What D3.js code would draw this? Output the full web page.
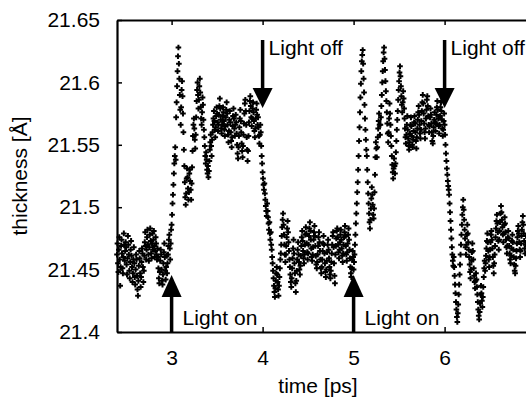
<!DOCTYPE html>
<html>
<head>
<meta charset="utf-8">
<script src="https://cdn.jsdelivr.net/npm/d3@7"></script>
<style>
  body { margin: 0; background: #fff; }
  text { font-family: "Liberation Sans", Arial, sans-serif; fill: #000; }
  .axis path, .axis line { stroke: #000; }
</style>
</head>
<body>
<div id="chart"></div>
<script>
// thickness trajectory, one value every 0.005 ps, split by light phase
var sampleStep = 0.005;

var darkA_start = 2.4;
var darkA = [
  21.462, 21.471, 21.455, 21.448, 21.466, 21.476, 21.458, 21.437, 21.452, 21.469,
  21.474, 21.463, 21.451, 21.447, 21.460, 21.479, 21.470, 21.457, 21.465, 21.472,
  21.468, 21.454, 21.446, 21.459, 21.477, 21.470, 21.462, 21.449, 21.443, 21.456,
  21.466, 21.473, 21.461, 21.452, 21.440, 21.447, 21.458, 21.468, 21.455, 21.444,
  21.438, 21.450, 21.462, 21.458, 21.445, 21.434, 21.429, 21.441, 21.453, 21.465,
  21.459, 21.447, 21.436, 21.444, 21.456, 21.467, 21.463, 21.452, 21.440, 21.449,
  21.461, 21.472, 21.480, 21.469, 21.458, 21.466, 21.476, 21.482, 21.470, 21.462,
  21.457, 21.468, 21.478, 21.483, 21.473, 21.463, 21.459, 21.471, 21.479, 21.466,
  21.474, 21.481, 21.469, 21.460, 21.465, 21.476, 21.471, 21.462, 21.458, 21.467,
  21.460, 21.451, 21.443, 21.439, 21.448, 21.457, 21.466, 21.462, 21.450, 21.441,
  21.438, 21.446, 21.455, 21.464, 21.471, 21.460, 21.449, 21.442, 21.452, 21.461,
  21.447, 21.455, 21.462, 21.469, 21.474, 21.478, 21.467, 21.458, 21.471, 21.482
];

var lightA_start = 3.0;
var lightA = [
  21.486, 21.494, 21.503, 21.510, 21.518, 21.527, 21.535, 21.541, 21.548, 21.538,
  21.572, 21.584, 21.597, 21.609, 21.621, 21.628, 21.615, 21.603, 21.590, 21.578,
  21.566, 21.580, 21.594, 21.601, 21.589, 21.575, 21.560, 21.546, 21.533, 21.520,
  21.508, 21.502, 21.511, 21.523, 21.531, 21.524, 21.515, 21.506, 21.512, 21.527,
  21.530, 21.521, 21.514, 21.506, 21.519, 21.532, 21.545, 21.557, 21.566, 21.571,
  21.563, 21.554, 21.547, 21.558, 21.572, 21.585, 21.594, 21.600, 21.590, 21.579,
  21.586, 21.597, 21.603, 21.592, 21.580, 21.571, 21.566, 21.576, 21.588, 21.582,
  21.570, 21.562, 21.556, 21.549, 21.541, 21.535, 21.544, 21.538, 21.530, 21.527,
  21.533, 21.524, 21.529, 21.537, 21.546, 21.552, 21.558, 21.549, 21.541, 21.554,
  21.560, 21.566, 21.571, 21.577, 21.569, 21.562, 21.556, 21.564, 21.573, 21.580,
  21.575, 21.568, 21.561, 21.566, 21.574, 21.581, 21.587, 21.579, 21.570, 21.563,
  21.559, 21.566, 21.573, 21.580, 21.576, 21.569, 21.562, 21.557, 21.565, 21.572,
  21.578, 21.584, 21.575, 21.566, 21.558, 21.552, 21.561, 21.570, 21.577, 21.568,
  21.560, 21.553, 21.548, 21.556, 21.565, 21.573, 21.579, 21.571, 21.563, 21.557,
  21.566, 21.574, 21.568, 21.559, 21.550, 21.543, 21.539, 21.548, 21.557, 21.564,
  21.571, 21.578, 21.569, 21.560, 21.551, 21.545, 21.540, 21.549, 21.558, 21.567,
  21.575, 21.583, 21.586, 21.577, 21.566, 21.556, 21.546, 21.537, 21.545, 21.557,
  21.568, 21.577, 21.585, 21.589, 21.581, 21.572, 21.565, 21.571, 21.579, 21.584,
  21.576, 21.569, 21.561, 21.556, 21.563, 21.571, 21.578, 21.583, 21.574, 21.566,
  21.572, 21.564, 21.557, 21.551, 21.558, 21.566, 21.560, 21.549, 21.541, 21.535
];

var darkB_start = 4.0;
var darkB = [
  21.528, 21.523, 21.518, 21.514, 21.519, 21.511, 21.506, 21.501, 21.497, 21.493,
  21.503, 21.497, 21.492, 21.487, 21.482, 21.488, 21.479, 21.474, 21.480, 21.470,
  21.466, 21.460, 21.455, 21.449, 21.443, 21.437, 21.432, 21.428, 21.435, 21.441,
  21.447, 21.452, 21.446, 21.440, 21.434, 21.429, 21.437, 21.444, 21.451, 21.458,
  21.463, 21.470, 21.477, 21.484, 21.490, 21.495, 21.486, 21.478, 21.470, 21.462,
  21.456, 21.462, 21.469, 21.476, 21.483, 21.489, 21.480, 21.472, 21.465, 21.458,
  21.452, 21.446, 21.440, 21.436, 21.443, 21.451, 21.459, 21.467, 21.474, 21.463,
  21.455, 21.447, 21.439, 21.432, 21.441, 21.449, 21.458, 21.466, 21.472, 21.462,
  21.456, 21.450, 21.446, 21.453, 21.461, 21.469, 21.476, 21.481, 21.473, 21.465,
  21.459, 21.455, 21.462, 21.470, 21.478, 21.484, 21.479, 21.471, 21.464, 21.458,
  21.463, 21.470, 21.477, 21.483, 21.488, 21.481, 21.474, 21.467, 21.460, 21.457,
  21.462, 21.468, 21.474, 21.480, 21.485, 21.477, 21.469, 21.461, 21.454, 21.451,
  21.456, 21.462, 21.469, 21.476, 21.480, 21.472, 21.465, 21.458, 21.451, 21.447,
  21.452, 21.458, 21.465, 21.471, 21.477, 21.470, 21.463, 21.455, 21.448, 21.444,
  21.450, 21.457, 21.464, 21.470, 21.474, 21.466, 21.459, 21.452, 21.446, 21.443,
  21.449, 21.456, 21.463, 21.470, 21.477, 21.480, 21.468, 21.455, 21.445, 21.439,
  21.462, 21.469, 21.475, 21.481, 21.483, 21.476, 21.470, 21.464, 21.459, 21.466,
  21.472, 21.478, 21.482, 21.474, 21.467, 21.461, 21.456, 21.463, 21.470, 21.476,
  21.480, 21.485, 21.477, 21.469, 21.462, 21.457, 21.464, 21.471, 21.478, 21.483,
  21.474, 21.466, 21.459, 21.452, 21.447, 21.444, 21.451, 21.458, 21.465, 21.460
];

var lightB_start = 5.0;
var lightB = [
  21.450, 21.456, 21.462, 21.470, 21.478, 21.487, 21.495, 21.503, 21.512, 21.520,
  21.530, 21.541, 21.553, 21.564, 21.576, 21.588, 21.599, 21.609, 21.617, 21.622,
  21.626, 21.615, 21.603, 21.592, 21.582, 21.571, 21.562, 21.554, 21.546, 21.541,
  21.530, 21.520, 21.511, 21.503, 21.495, 21.488, 21.483, 21.490, 21.499, 21.507,
  21.516, 21.510, 21.502, 21.494, 21.491, 21.499, 21.512, 21.526, 21.540, 21.552,
  21.547, 21.540, 21.548, 21.556, 21.563, 21.569, 21.575, 21.566, 21.558, 21.566,
  21.572, 21.581, 21.590, 21.600, 21.609, 21.617, 21.624, 21.628, 21.619, 21.610,
  21.601, 21.593, 21.585, 21.576, 21.567, 21.559, 21.552, 21.560, 21.571, 21.583,
  21.575, 21.566, 21.557, 21.549, 21.541, 21.534, 21.528, 21.523, 21.531, 21.539,
  21.533, 21.527, 21.535, 21.544, 21.553, 21.562, 21.570, 21.577, 21.586, 21.594,
  21.601, 21.608, 21.613, 21.605, 21.597, 21.589, 21.582, 21.576, 21.584, 21.593,
  21.587, 21.579, 21.571, 21.563, 21.556, 21.551, 21.558, 21.566, 21.573, 21.562,
  21.555, 21.549, 21.546, 21.552, 21.559, 21.566, 21.572, 21.565, 21.557, 21.550,
  21.548, 21.554, 21.561, 21.568, 21.573, 21.567, 21.560, 21.553, 21.547, 21.556,
  21.563, 21.570, 21.576, 21.581, 21.574, 21.566, 21.559, 21.555, 21.562, 21.569,
  21.577, 21.584, 21.590, 21.583, 21.575, 21.567, 21.560, 21.555, 21.563, 21.571,
  21.578, 21.586, 21.589, 21.581, 21.573, 21.566, 21.560, 21.565, 21.572, 21.579,
  21.574, 21.567, 21.560, 21.553, 21.551, 21.557, 21.564, 21.570, 21.576, 21.568,
  21.561, 21.567, 21.574, 21.580, 21.585, 21.578, 21.571, 21.565, 21.559, 21.566,
  21.573, 21.580, 21.584, 21.577, 21.570, 21.563, 21.557, 21.562, 21.569, 21.575
];

var darkC_start = 6.0;
var darkC = [
  21.566, 21.558, 21.550, 21.543, 21.537, 21.531, 21.526, 21.521, 21.517, 21.514,
  21.510, 21.503, 21.496, 21.489, 21.482, 21.475, 21.468, 21.462, 21.457, 21.453,
  21.460, 21.452, 21.445, 21.438, 21.431, 21.424, 21.418, 21.412, 21.408, 21.415,
  21.422, 21.430, 21.438, 21.446, 21.454, 21.462, 21.470, 21.478, 21.486, 21.494,
  21.500, 21.506, 21.498, 21.490, 21.482, 21.475, 21.468, 21.462, 21.470, 21.478,
  21.486, 21.479, 21.472, 21.466, 21.460, 21.454, 21.448, 21.443, 21.450, 21.457,
  21.464, 21.471, 21.465, 21.458, 21.451, 21.445, 21.440, 21.435, 21.441, 21.447,
  21.442, 21.436, 21.430, 21.424, 21.418, 21.413, 21.410, 21.416, 21.423, 21.430,
  21.437, 21.431, 21.425, 21.420, 21.428, 21.436, 21.444, 21.451, 21.457, 21.449,
  21.455, 21.461, 21.467, 21.473, 21.479, 21.472, 21.465, 21.458, 21.452, 21.460,
  21.466, 21.472, 21.478, 21.481, 21.474, 21.467, 21.460, 21.453, 21.447, 21.455,
  21.462, 21.469, 21.476, 21.483, 21.489, 21.494, 21.487, 21.480, 21.473, 21.466,
  21.474, 21.481, 21.488, 21.495, 21.501, 21.496, 21.490, 21.484, 21.478, 21.472,
  21.479, 21.486, 21.492, 21.487, 21.480, 21.474, 21.468, 21.463, 21.469, 21.476,
  21.481, 21.475, 21.469, 21.463, 21.458, 21.455, 21.461, 21.467, 21.473, 21.478,
  21.472, 21.466, 21.460, 21.454, 21.449, 21.447, 21.453, 21.459, 21.465, 21.471,
  21.476, 21.481, 21.485, 21.479, 21.472, 21.466, 21.460, 21.465, 21.471, 21.477,
  21.482, 21.488, 21.493, 21.486, 21.479, 21.473, 21.467, 21.463, 21.470, 21.477
];

var xTicks = [3, 4, 5, 6];
var yTicks = [21.4, 21.45, 21.5, 21.55, 21.6, 21.65];

// light switching events
var events = [
  { t: 3, label: "Light on",  dir: "up" },
  { t: 4, label: "Light off", dir: "down" },
  { t: 5, label: "Light on",  dir: "up" },
  { t: 6, label: "Light off", dir: "down" }
];

var W = 526, H = 401;
var plotLeft = 117, plotTop = 20, plotBottom = 332;

var svg = d3.select("#chart").append("svg")
  .attr("width", W)
  .attr("height", H);

var x = d3.scaleLinear().domain([2.4, 7.0]).range([plotLeft, plotLeft + 4.6 * 91]);
var y = d3.scaleLinear().domain([21.4, 21.65]).range([plotBottom, plotTop]);

var points = [];
[[darkA_start, darkA], [lightA_start, lightA], [darkB_start, darkB],
 [lightB_start, lightB], [darkC_start, darkC]].forEach(function (seg) {
  seg[1].forEach(function (v, i) {
    points.push({ t: seg[0] + i * sampleStep, v: v });
  });
});

svg.append("g")
  .selectAll("path")
  .data(points)
  .enter().append("path")
  .attr("d", "M-2.8,0H2.8M0,-2.8V2.8")
  .attr("stroke", "#000")
  .attr("stroke-width", 2)
  .attr("transform", function (d) { return "translate(" + x(d.t) + "," + y(d.v) + ")"; });

// axes
svg.append("g").attr("class", "axis")
  .attr("transform", "translate(0," + plotBottom + ")")
  .call(d3.axisBottom(x).tickValues(xTicks).tickSizeInner(-5).tickSizeOuter(0).tickPadding(18).tickFormat(d3.format("d")));

svg.append("g").attr("class", "axis")
  .attr("transform", "translate(0," + plotTop + ")")
  .call(d3.axisTop(x).tickValues(xTicks).tickSizeInner(-5).tickSizeOuter(0).tickFormat(""));

svg.append("g").attr("class", "axis")
  .attr("transform", "translate(" + plotLeft + ",0)")
  .call(d3.axisLeft(y).tickValues(yTicks).tickSizeInner(-5).tickSizeOuter(0).tickPadding(17)
    .tickFormat(function (d) { return String(+d.toFixed(2)); }));

svg.selectAll(".axis path").attr("stroke-width", 2.2);
svg.selectAll(".axis line").attr("stroke-width", 1.5);
svg.selectAll(".axis text").style("font-size", "21px")
  .style("font-family", "'Liberation Sans', Arial, sans-serif").attr("fill", "#000");

// arrows + labels
events.forEach(function (e) {
  var ax = x(e.t);
  var g = svg.append("g");
  if (e.dir === "up") {
    g.append("line").attr("x1", ax).attr("x2", ax).attr("y1", plotBottom).attr("y2", 296)
      .attr("stroke", "#000").attr("stroke-width", 3.5);
    g.append("path").attr("d", "M" + (ax - 10) + ",297L" + ax + ",275L" + (ax + 10) + ",297Z").attr("fill", "#000");
    g.append("text").attr("x", ax + 11).attr("y", 325).style("font-size", "21px").text(e.label);
  } else {
    g.append("line").attr("x1", ax).attr("x2", ax).attr("y1", 40).attr("y2", 89)
      .attr("stroke", "#000").attr("stroke-width", 3.5);
    g.append("path").attr("d", "M" + (ax - 10) + ",88L" + ax + ",108L" + (ax + 10) + ",88Z").attr("fill", "#000");
    g.append("text").attr("x", ax + 6).attr("y", 55).style("font-size", "21px").text(e.label);
  }
});

// axis titles
svg.append("text")
  .attr("x", 318).attr("y", 393)
  .attr("text-anchor", "middle")
  .style("font-size", "21px")
  .text("time [ps]");

svg.append("text")
  .attr("transform", "translate(27,176) rotate(-90)")
  .attr("text-anchor", "middle")
  .style("font-size", "21px")
  .text("thickness [Å]");
</script>
</body>
</html>
